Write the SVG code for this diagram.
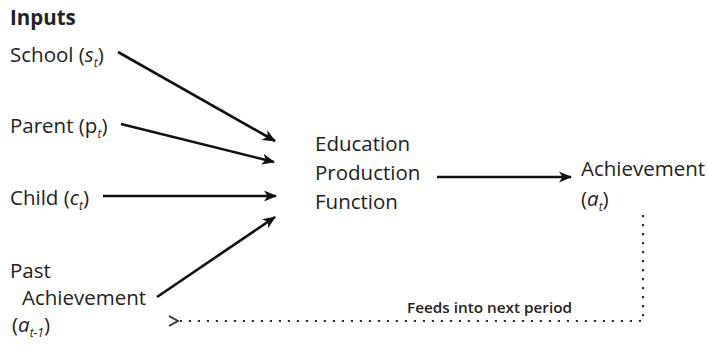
<svg xmlns="http://www.w3.org/2000/svg" width="708" height="346" viewBox="0 0 708 346">
<defs>
<style>
text{font-family:"Open Sans","Noto Sans",sans-serif;font-size:20.5px;fill:#222}
.b{font-weight:bold}
.i{font-style:italic}
.sub{font-size:12px;font-style:italic}
.small{font-size:15px;font-weight:600}
.solid{stroke:#111;stroke-width:2.6;fill:none}
.dot{stroke:#333;stroke-width:2.2;fill:none;stroke-dasharray:2.2 6.8;stroke-linecap:butt}
</style>
<marker id="ah" markerUnits="userSpaceOnUse" markerWidth="14" markerHeight="12" refX="12" refY="6" orient="auto">
<path d="M0,0.5 L13,6 L0,11.5 L3.5,6 z" fill="#111"/>
</marker>
<marker id="oh" markerUnits="userSpaceOnUse" markerWidth="12" markerHeight="12" refX="1" refY="6" orient="auto-start-reverse">
<path d="M10,1 L1,6 L10,11" fill="none" stroke="#333" stroke-width="2"/>
</marker>
</defs>
<rect width="708" height="346" fill="#fff"/>
<g id="inputs-label"><text x="10" y="25" class="b">Inputs</text></g>
<g id="school"><text x="10" y="62">School (<tspan class="i">s</tspan><tspan class="sub" dy="5">t</tspan><tspan dy="-5">)</tspan></text></g>
<g id="parent"><text x="10" y="133">Parent (p<tspan class="sub" dy="5">t</tspan><tspan dy="-5">)</tspan></text></g>
<g id="child"><text x="10" y="205">Child (<tspan class="i">c</tspan><tspan class="sub" dy="5">t</tspan><tspan dy="-5">)</tspan></text></g>
<g id="past"><text x="10" y="278">Past</text><text x="22" y="305">Achievement</text><text x="12" y="332">(<tspan class="i">a</tspan><tspan class="sub" dy="5">t-1</tspan><tspan dy="-5">)</tspan></text></g>
<g id="epf"><text x="315" y="151">Education</text><text x="315" y="180">Production</text><text x="315" y="209">Function</text></g>
<g id="achievement"><text x="581" y="176">Achievement</text><text x="581" y="206">(<tspan class="i">a</tspan><tspan class="sub" dy="5">t</tspan><tspan dy="-5">)</tspan></text></g>
<g id="connectors">
<line class="solid" x1="118" y1="52" x2="275" y2="141" marker-end="url(#ah)"/>
<line class="solid" x1="121" y1="124" x2="274" y2="162" marker-end="url(#ah)"/>
<line class="solid" x1="103" y1="196" x2="276" y2="196" marker-end="url(#ah)"/>
<line class="solid" x1="157" y1="297" x2="275" y2="217" marker-end="url(#ah)"/>
<line class="solid" x1="437" y1="177" x2="571" y2="177" marker-end="url(#ah)"/>
<path class="dot" d="M643,215 L643,321 L178,321" marker-end="url(#oh)"/>
<text x="407" y="313" class="small" textLength="165" lengthAdjust="spacingAndGlyphs">Feeds into next period</text>
</g>
</svg>
